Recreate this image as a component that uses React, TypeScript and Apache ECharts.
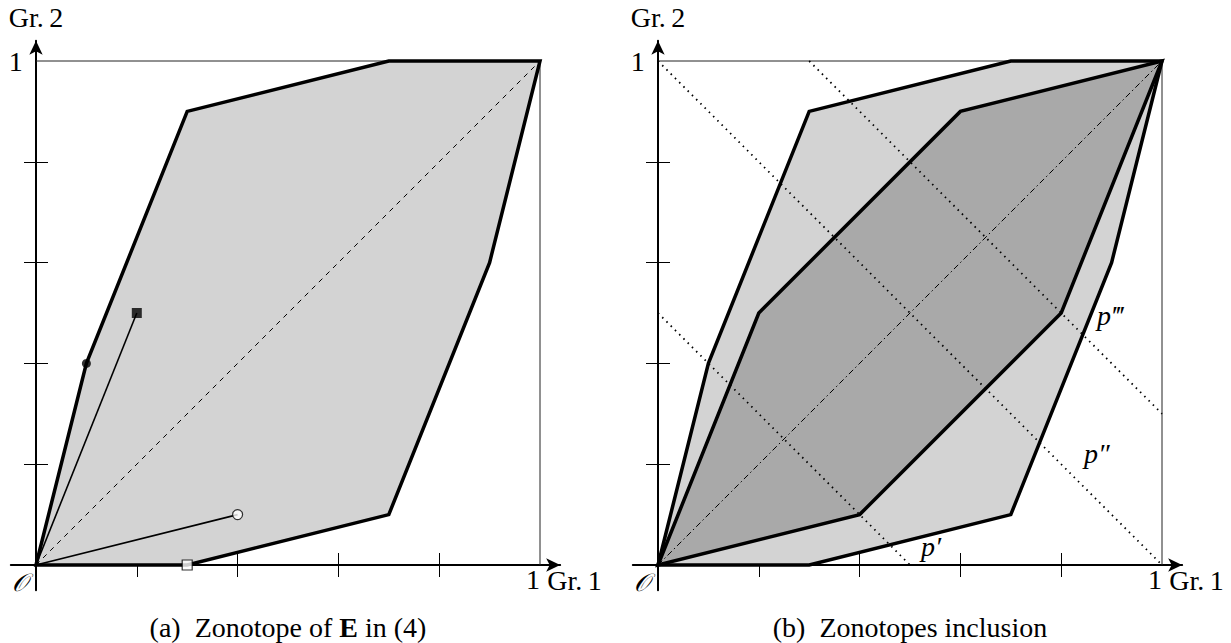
import React, { useEffect, useRef } from "react";
import * as echarts from "echarts";

const FONT = '"Liberation Serif", "DejaVu Serif", serif';
const FS = 28;

// axis ticks / labels
const tickValues = [0.2, 0.4, 0.6, 0.8];
const endLabelValues = [1];

// panel (a): zonotope of E and its generators
const zonotopeE = [
  [0, 0], [0.1, 0.4], [0.3, 0.9], [0.7, 1], [1, 1], [0.9, 0.6], [0.7, 0.1], [0.3, 0],
];
const generatorSquare = [[0, 0], [0.2, 0.5]];
const generatorCircle = [[0, 0], [0.4, 0.1]];
const filledSquarePts = [[0.2, 0.5]];
const openCirclePts = [[0.4, 0.1]];
const filledCirclePts = [[0.1, 0.4]];
const openSquarePts = [[0.3, 0]];

// panel (b): inner zonotope and iso-lines
const zonotopeInner = [[0, 0], [0.2, 0.5], [0.6, 0.9], [1, 1], [0.8, 0.5], [0.4, 0.1]];
const isoP1 = [[0, 0.5], [0.5, 0]];
const isoP2 = [[0, 1], [1, 0]];
const isoP3 = [[0.3, 1], [1, 0.3]];

// shared
const diagonal = [[0, 0], [1, 1]];
const unitBox = [[0, 1], [1, 1], [1, 0]];

const AX_MIN = -0.05;
const AX_MAX = 1.04;
const UNIT = 504;
const ORIGIN_Y = 565;
const ORIGINS_X = [36, 658];

function xAxes(gridIndex: number) {
  const base = {
    type: "value",
    gridIndex,
    min: AX_MIN,
    max: AX_MAX,
    position: "bottom",
    splitLine: { show: false },
  };
  return [
    {
      ...base,
      axisLine: {
        show: true,
        onZero: true,
        symbol: ["none", "arrow"],
        symbolSize: [10, 14],
        lineStyle: { color: "#000", width: 2 },
      },
      axisTick: { show: true, inside: false, length: 12, customValues: tickValues, lineStyle: { color: "#000", width: 1 } },
      axisLabel: {
        show: true,
        customValues: endLabelValues,
        formatter: (v: number) => String(v),
        align: "right",
        margin: -24.3,
        fontSize: FS,
        fontFamily: FONT,
        color: "#000",
        lineHeight: FS,
      },
      name: "Gr.\u20091",
      nameLocation: "end",
      nameGap: -13,
      nameMoveOverlap: false,
      nameTextStyle: {
        fontSize: FS,
        fontFamily: FONT,
        color: "#000",
        align: "left",
        verticalAlign: "top",
        lineHeight: FS,
        padding: [1.5, 0, 0, 0],
      },
    },
    {
      ...base,
      axisLine: { show: false, onZero: true },
      axisTick: { show: true, inside: true, length: 12, customValues: tickValues, lineStyle: { color: "#000", width: 1 } },
      axisLabel: { show: false },
    },
  ];
}

function yAxes(gridIndex: number) {
  const base = {
    type: "value",
    gridIndex,
    min: AX_MIN,
    max: AX_MAX,
    position: "left",
    splitLine: { show: false },
  };
  return [
    {
      ...base,
      axisLine: {
        show: true,
        onZero: true,
        symbol: ["none", "arrow"],
        symbolSize: [10, 14],
        lineStyle: { color: "#000", width: 2 },
      },
      axisTick: { show: true, inside: false, length: 12, customValues: tickValues, lineStyle: { color: "#000", width: 1 } },
      axisLabel: {
        show: true,
        customValues: endLabelValues,
        formatter: (v: number) => String(v),
        align: "right",
        margin: -12,
        fontSize: FS,
        fontFamily: FONT,
        color: "#000",
        padding: [5, 0, 0, 0],
      },
      name: "Gr.\u20092",
      nameLocation: "end",
      nameGap: 9,
      nameMoveOverlap: false,
      nameTextStyle: { fontSize: FS, fontFamily: FONT, color: "#000", align: "center", verticalAlign: "bottom", lineHeight: FS },
    },
    {
      ...base,
      axisLine: { show: false, onZero: true },
      axisTick: { show: true, inside: true, length: 12, customValues: tickValues, lineStyle: { color: "#000", width: 1 } },
      axisLabel: { show: false },
    },
  ];
}

function polygonSeries(xi: number, yi: number, verts: number[][], fill: string, z: number) {
  return {
    type: "custom",
    xAxisIndex: xi,
    yAxisIndex: yi,
    data: verts,
    z,
    silent: true,
    renderItem: (params: any, api: any) => {
      if (params.dataIndex !== 0) return null;
      const points = verts.map((v) => api.coord(v));
      return {
        type: "polygon",
        shape: { points },
        style: { fill, stroke: "#000", lineWidth: 3.5, lineJoin: "miter" },
      };
    },
  };
}

function lineSeries(xi: number, yi: number, data: number[][], lineStyle: any, z: number) {
  return {
    type: "line",
    xAxisIndex: xi,
    yAxisIndex: yi,
    data,
    symbol: "none",
    showSymbol: false,
    silent: true,
    clip: false,
    z,
    lineStyle,
  };
}

function markerSeries(xi: number, yi: number, data: number[][], symbol: string, size: number, itemStyle: any) {
  return {
    type: "scatter",
    xAxisIndex: xi,
    yAxisIndex: yi,
    data,
    symbol,
    symbolSize: size,
    silent: true,
    z: 6,
    itemStyle,
  };
}

function gridFor(originX: number) {
  const left = originX + AX_MIN * UNIT;
  const top = ORIGIN_Y - AX_MAX * UNIT;
  const size = (AX_MAX - AX_MIN) * UNIT;
  return { left, top, width: size, height: size, containLabel: false, outerBoundsMode: "none" };
}

export default function App() {
  const ref = useRef<HTMLDivElement>(null);

  useEffect(() => {
    if (!ref.current) return;
    const chart = echarts.init(ref.current, undefined, { renderer: "svg" });
    const boxStyle = { color: "#222", width: 1 };
    const option: any = {
      animation: false,
      backgroundColor: "#fff",
      textStyle: { fontFamily: FONT },
      grid: [gridFor(ORIGINS_X[0]), gridFor(ORIGINS_X[1])],
      xAxis: [...xAxes(0), ...xAxes(1)],
      yAxis: [...yAxes(0), ...yAxes(1)],
      series: [
        // panel (a)
        lineSeries(0, 0, unitBox, boxStyle, 1),
        polygonSeries(0, 0, zonotopeE, "#d3d3d3", 2),
        lineSeries(0, 0, diagonal, { color: "#000", width: 1, type: [5, 5] }, 3),
        lineSeries(0, 0, generatorSquare, { color: "#000", width: 1.6 }, 4),
        lineSeries(0, 0, generatorCircle, { color: "#000", width: 1.6 }, 4),
        markerSeries(0, 0, filledSquarePts, "rect", 10, { color: "#000" }),
        markerSeries(0, 0, openCirclePts, "circle", 10, { color: "#fff", borderColor: "#000", borderWidth: 1.2 }),
        markerSeries(0, 0, filledCirclePts, "circle", 9, { color: "#000" }),
        markerSeries(0, 0, openSquarePts, "rect", 10, { color: "#fff", borderColor: "#000", borderWidth: 1.2 }),
        // panel (b)
        lineSeries(2, 2, unitBox, boxStyle, 1),
        polygonSeries(2, 2, zonotopeE, "#d3d3d3", 2),
        polygonSeries(2, 2, zonotopeInner, "#a9a9a9", 3),
        lineSeries(2, 2, diagonal, { color: "#000", width: 1, type: [6, 3, 1.5, 3] }, 4),
        lineSeries(2, 2, isoP1, { color: "#000", width: 1.8, type: [1.5, 4.5] }, 5),
        lineSeries(2, 2, isoP2, { color: "#000", width: 1.8, type: [1.5, 4.5] }, 5),
        lineSeries(2, 2, isoP3, { color: "#000", width: 1.8, type: [1.5, 4.5] }, 5),
      ],
      graphic: [
        { type: "text", x: 20, y: 582, style: { text: "𝒪", font: `italic 25px ${FONT}`, fill: "#000", align: "center", verticalAlign: "middle" } },
        { type: "text", x: 642, y: 582, style: { text: "𝒪", font: `italic 25px ${FONT}`, fill: "#000", align: "center", verticalAlign: "middle" } },
        {
          type: "text",
          x: 288,
          y: 627,
          style: {
            text: "(a)  Zonotope of {b|E} in (4)",
            font: `${FS}px ${FONT}`,
            fill: "#000",
            align: "center",
            verticalAlign: "middle",
            rich: { b: { fontWeight: "bold", fontSize: FS, fontFamily: FONT, fill: "#000" } },
          },
        },
        {
          type: "text",
          x: 910,
          y: 627,
          style: { text: "(b)  Zonotopes inclusion", font: `${FS}px ${FONT}`, fill: "#000", align: "center", verticalAlign: "middle" },
        },
        { type: "text", x: 921, y: 546, style: { text: "p′", font: `italic ${FS}px ${FONT}`, fill: "#000", align: "left", verticalAlign: "middle" } },
        { type: "text", x: 1084, y: 453, style: { text: "p″", font: `italic ${FS}px ${FONT}`, fill: "#000", align: "left", verticalAlign: "middle" } },
        { type: "text", x: 1097, y: 315, style: { text: "p‴", font: `italic ${FS}px ${FONT}`, fill: "#000", align: "left", verticalAlign: "middle" } },
      ],
    };
    chart.setOption(option);
    return () => chart.dispose();
  }, []);

  return (
    <div
      ref={ref}
      style={{ position: "absolute", left: 0, top: 0, width: 1231, height: 643, background: "#fff" }}
    />
  );
}
